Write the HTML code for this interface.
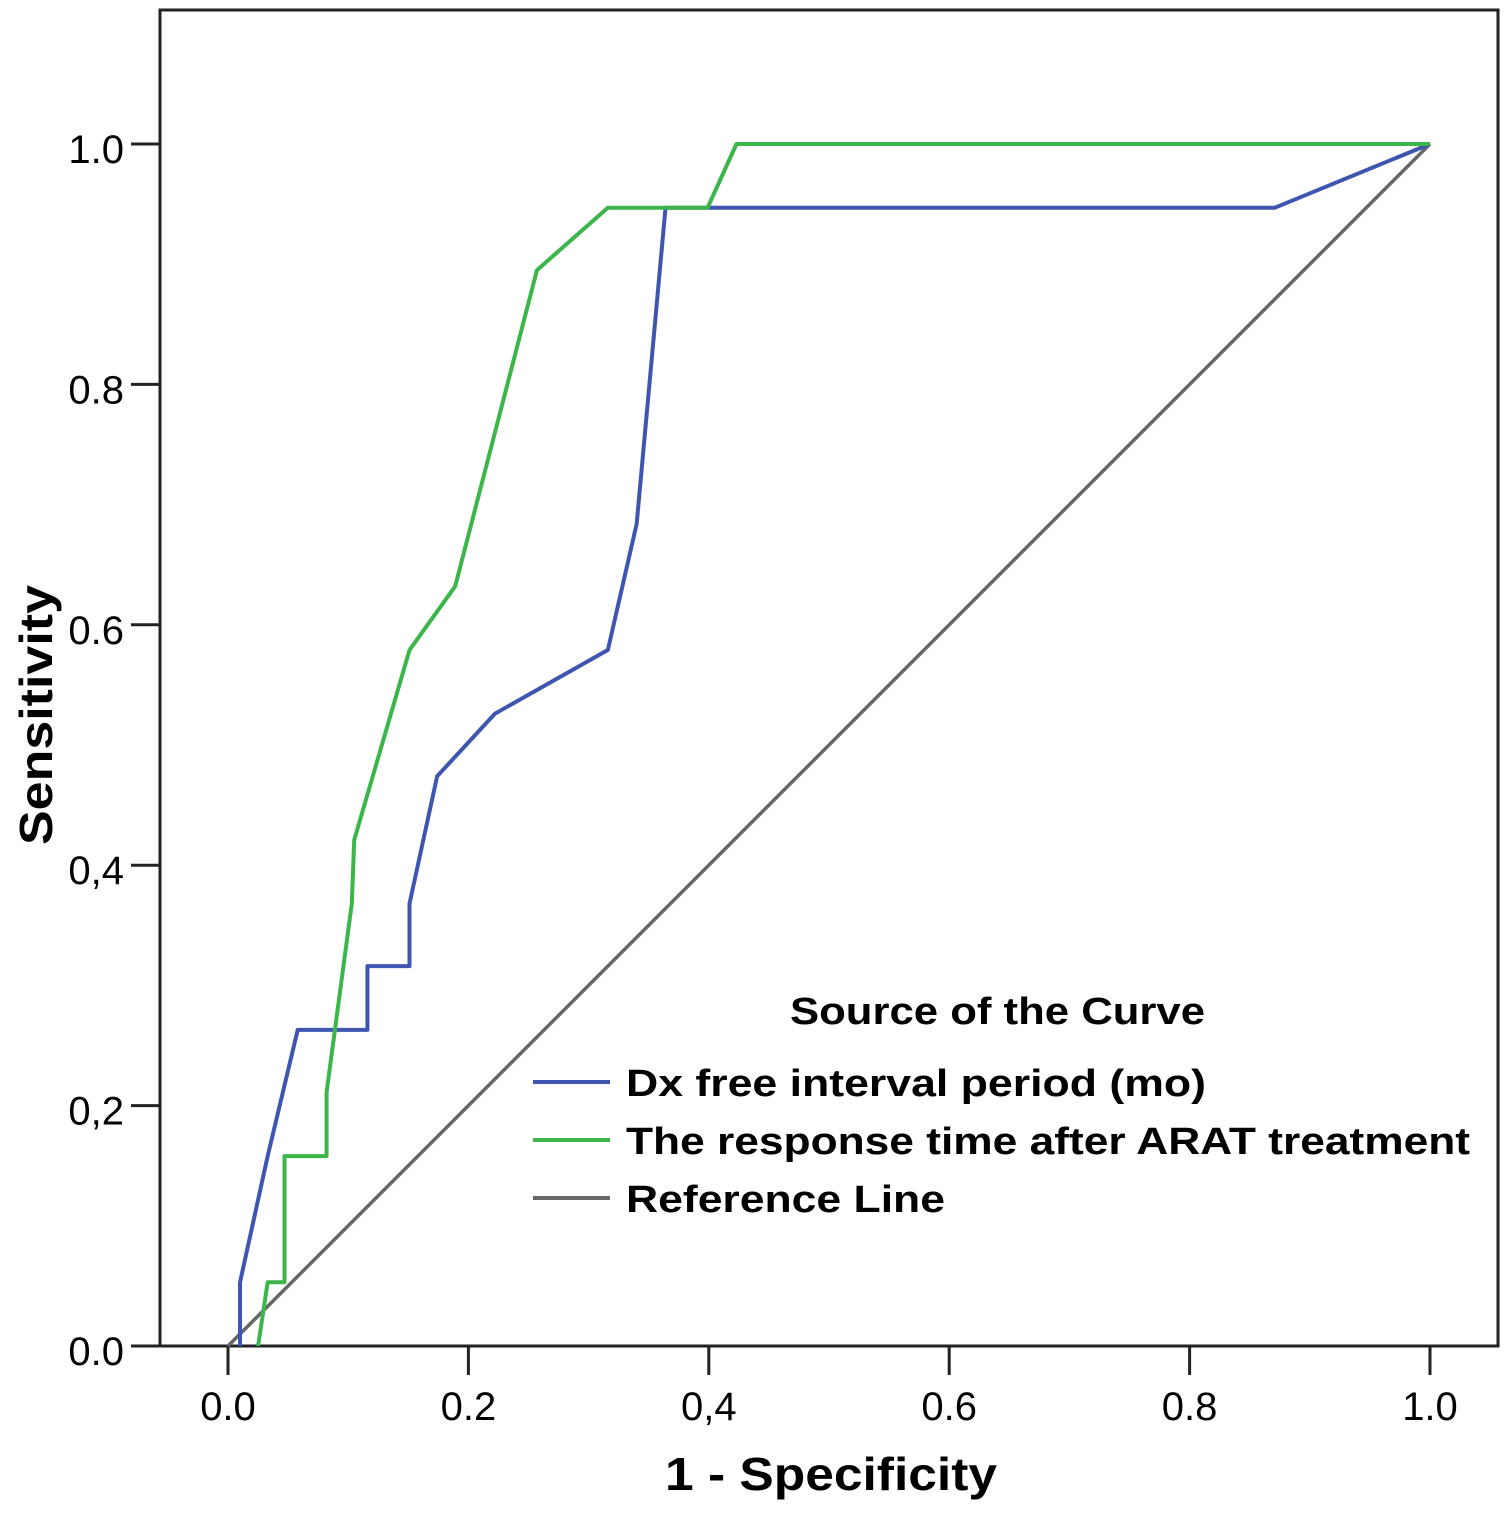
<!DOCTYPE html>
<html><head><meta charset="utf-8"><style>
html,body{margin:0;padding:0;background:#fff;}
svg text{font-family:"Liberation Sans",sans-serif;}
</style></head><body>
<svg id="chart" width="1508" height="1510" viewBox="0 0 1508 1510" xmlns="http://www.w3.org/2000/svg">
<rect x="0" y="0" width="1508" height="1510" fill="#fff"/>
<rect x="160" y="10" width="1338" height="1336" fill="none" stroke="#222" stroke-width="3"/>
<g id="axes"></g>
<g id="series"></g>
<text x="52" y="715" font-size="46" font-weight="bold" text-anchor="middle" textLength="260" lengthAdjust="spacingAndGlyphs" transform="rotate(-90 52 715)" fill="#000">Sensitivity</text>
<text x="665" y="1490" font-size="46" font-weight="bold" textLength="332" lengthAdjust="spacingAndGlyphs" fill="#000">1 - Specificity</text>
<g>
<text x="790" y="1024" font-size="38" font-weight="bold" textLength="415" lengthAdjust="spacingAndGlyphs" fill="#000">Source of the Curve</text>
<line x1="533" y1="1082" x2="610" y2="1082" stroke="#3f56b0" stroke-width="4"/>
<text x="626" y="1096" font-size="38" font-weight="bold" textLength="580" lengthAdjust="spacingAndGlyphs" fill="#000">Dx free interval period (mo)</text>
<line x1="533" y1="1140" x2="610" y2="1140" stroke="#3cb54a" stroke-width="4"/>
<text x="626" y="1154" font-size="38" font-weight="bold" textLength="844" lengthAdjust="spacingAndGlyphs" fill="#000">The response time after ARAT treatment</text>
<line x1="533" y1="1198" x2="610" y2="1198" stroke="#666" stroke-width="4"/>
<text x="626" y="1212" font-size="38" font-weight="bold" textLength="319" lengthAdjust="spacingAndGlyphs" fill="#000">Reference Line</text>
</g>
</svg>
<script>
const xTickValues=[0,0.2,0.4,0.6,0.8,1.0];
const xTickLabels=["0.0","0.2","0,4","0.6","0.8","1.0"];
const yTickValues=[0,0.2,0.4,0.6,0.8,1.0];
const yTickLabels=["0.0","0,2","0,4","0.6","0.8","1.0"];
const blueFpr=[0.01,0.01,0.033,0.058,0.116,0.116,0.151,0.151,0.174,0.222,0.316,0.340,0.364,0.871,1];
const blueTpr=[0,0.053,0.158,0.263,0.263,0.316,0.316,0.368,0.474,0.526,0.579,0.684,0.947,0.947,1];
const greenFpr=[0.025,0.033,0.047,0.047,0.082,0.082,0.103,0.105,0.151,0.189,0.257,0.316,0.399,0.423,1];
const greenTpr=[0,0.053,0.053,0.158,0.158,0.211,0.368,0.421,0.579,0.632,0.895,0.947,0.947,1,1];
const refFpr=[0,1];
const refTpr=[0,1];
const NS="http://www.w3.org/2000/svg";
function sx(v){return 228+v*1202;}
function sy(v){return 1346-v*1202;}
const axes=document.getElementById('axes');
const series=document.getElementById('series');
function mk(tag,attrs,parent){const e=document.createElementNS(NS,tag);for(const k in attrs)e.setAttribute(k,attrs[k]);parent.appendChild(e);return e;}
xTickValues.forEach((v,i)=>{
  const t=mk('line',{x1:sx(v),y1:1346,x2:sx(v),y2:1375,stroke:'#222','stroke-width':3},axes);
  
  
  const l=mk('text',{x:sx(v),y:1420,'font-size':40,'text-anchor':'middle',fill:'#000'},axes);
  l.textContent=xTickLabels[i];
  
  
});
yTickValues.forEach((v,i)=>{
  const t=mk('line',{x1:131,y1:sy(v),x2:160,y2:sy(v),stroke:'#222','stroke-width':3},axes);
  
  
  const l=mk('text',{x:124,y:sy(v)+19,'font-size':40,'text-anchor':'end',fill:'#000'},axes);
  l.textContent=yTickLabels[i];
  
  
});
function pts(xs,ys){return xs.map((x,i)=>sx(x)+','+sy(ys[i])).join(' ');}
const r=mk('polyline',{points:pts(refFpr,refTpr),fill:'none',stroke:'#666','stroke-width':3.5},series);


const b=mk('polyline',{points:pts(blueFpr,blueTpr),fill:'none',stroke:'#3f56b0','stroke-width':4,'stroke-linejoin':'round'},series);


const g=mk('polyline',{points:pts(greenFpr,greenTpr),fill:'none',stroke:'#3cb54a','stroke-width':4,'stroke-linejoin':'round'},series);


</script>
</body></html>
